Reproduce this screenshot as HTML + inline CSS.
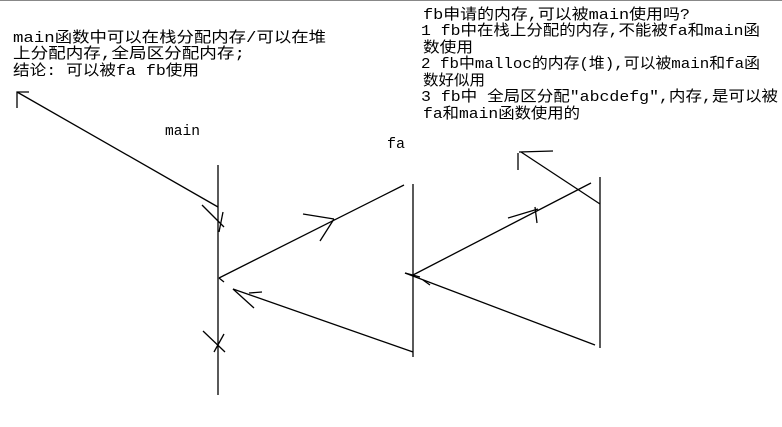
<!DOCTYPE html>
<html><head><meta charset="utf-8"><style>
html,body{margin:0;padding:0;background:#fff;}
svg{display:block;}
text{font-family:"Liberation Mono","Noto Sans CJK SC",monospace;font-size:15px;fill:#000;}
</style></head><body>
<svg width="782" height="427" viewBox="0 0 782 427" xmlns="http://www.w3.org/2000/svg">
<rect x="0" y="0" width="782" height="1" fill="#888"/>
<text x="13" y="42" textLength="313" lengthAdjust="spacingAndGlyphs">main函数中可以在栈分配内存/可以在堆</text>
<text x="13" y="58" textLength="232" lengthAdjust="spacingAndGlyphs">上分配内存,全局区分配内存;</text>
<text x="13" y="75" textLength="186" lengthAdjust="spacingAndGlyphs">结论: 可以被fa fb使用</text>
<text x="423" y="19" textLength="267" lengthAdjust="spacingAndGlyphs">fb申请的内存,可以被main使用吗?</text>
<text x="421" y="35" textLength="339" lengthAdjust="spacingAndGlyphs">1 fb中在栈上分配的内存,不能被fa和main函</text>
<text x="423" y="52" textLength="50" lengthAdjust="spacingAndGlyphs">数使用</text>
<text x="421" y="68" textLength="339" lengthAdjust="spacingAndGlyphs">2 fb中malloc的内存(堆),可以被main和fa函</text>
<text x="423" y="85" textLength="62" lengthAdjust="spacingAndGlyphs">数好似用</text>
<text x="421" y="101" textLength="357" lengthAdjust="spacingAndGlyphs">3 fb中 全局区分配"abcdefg",内存,是可以被</text>
<text x="423" y="118" textLength="157" lengthAdjust="spacingAndGlyphs">fa和main函数使用的</text>
<text x="165" y="135" textLength="35" lengthAdjust="spacingAndGlyphs">main</text>
<text x="387" y="148" textLength="18" lengthAdjust="spacingAndGlyphs">fa</text>
<g stroke="#000" stroke-width="1.3" fill="none">
<line x1="218" y1="165" x2="218" y2="395"/>
<line x1="413" y1="184" x2="413" y2="357"/>
<line x1="600" y1="177" x2="600" y2="348"/>
<line x1="17" y1="92" x2="218" y2="207"/>
<polyline points="17,108 17,92 29,92"/>
<line x1="202" y1="205" x2="224" y2="227"/>
<line x1="223" y1="212" x2="219" y2="232"/>
<line x1="219" y1="278" x2="404" y2="185"/>
<line x1="219" y1="278" x2="224" y2="282"/>
<line x1="303" y1="214" x2="334" y2="219"/>
<line x1="320" y1="241" x2="334" y2="219"/>
<line x1="413" y1="352" x2="233" y2="289"/>
<line x1="233" y1="289" x2="254" y2="308"/>
<line x1="249" y1="293" x2="262" y2="292"/>
<line x1="203" y1="331" x2="225" y2="352"/>
<line x1="214" y1="352" x2="224" y2="334"/>
<line x1="405" y1="273" x2="420" y2="277"/>
<line x1="413" y1="275" x2="591" y2="183"/>
<line x1="508" y1="218" x2="538" y2="209"/>
<line x1="535" y1="207" x2="537" y2="223"/>
<line x1="600" y1="204" x2="521" y2="152"/>
<line x1="519" y1="152" x2="553" y2="151"/>
<line x1="518" y1="153" x2="518" y2="170"/>
<line x1="405" y1="273" x2="595" y2="345"/>
<line x1="423" y1="280" x2="430" y2="285"/>
</g>
</svg>
</body></html>
